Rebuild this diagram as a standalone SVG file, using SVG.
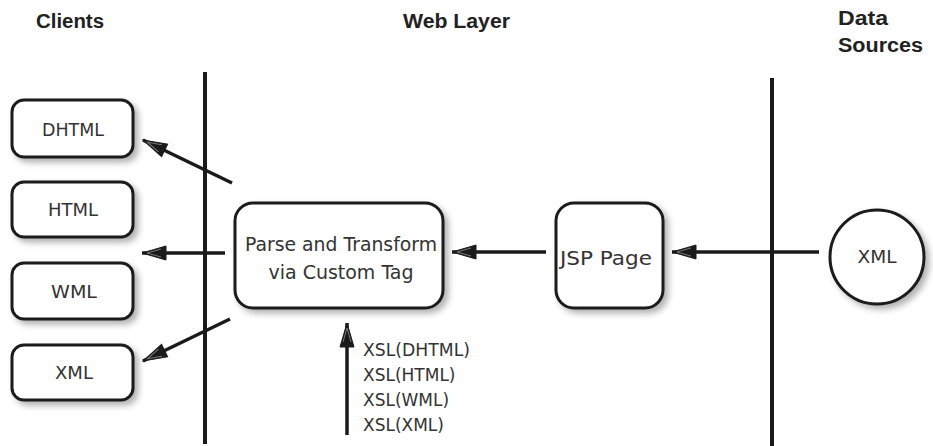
<svg xmlns="http://www.w3.org/2000/svg" width="933" height="446" viewBox="0 0 933 446">
<style>
.hdr{font-family:"Liberation Sans",Arial,sans-serif;font-weight:bold;font-size:20px;fill:#222}
.lbl{font-family:"DejaVu Sans","Liberation Sans",sans-serif;font-size:17px;fill:#333}
.big{font-family:"DejaVu Sans","Liberation Sans",sans-serif;font-size:19px;fill:#333}
.box{fill:#fff;stroke:#1a1a1a;stroke-width:3}
.bar{stroke:#1a1a1a;stroke-width:4;fill:none}
.conn{stroke:#1a1a1a;stroke-width:3.5;fill:none;marker-end:url(#arr)}
</style>
<defs>
<filter id="sh" x="-20%" y="-20%" width="150%" height="150%">
<feDropShadow dx="4" dy="4" stdDeviation="3" flood-color="#000" flood-opacity="0.3"/>
</filter>
<marker id="arr" markerUnits="userSpaceOnUse" viewBox="0 0 26 16" refX="25" refY="8" markerWidth="26" markerHeight="16" orient="auto">
<path d="M1,1 L25,8 L1,15 Z" fill="#1a1a1a" stroke="#1a1a1a" stroke-width="1"/>
<path d="M6,4 L20,8 L6,12" fill="none" stroke="#777" stroke-width="1"/>
</marker>
</defs>
<g id="headers">
<text class="hdr" x="36" y="28" textLength="68" lengthAdjust="spacingAndGlyphs">Clients</text>
<text class="hdr" x="403" y="28" textLength="107" lengthAdjust="spacingAndGlyphs">Web Layer</text>
<text class="hdr" x="838" y="25" textLength="50" lengthAdjust="spacingAndGlyphs">Data</text>
<text class="hdr" x="838" y="52" textLength="85" lengthAdjust="spacingAndGlyphs">Sources</text>
</g>
<g id="tiers">
<line class="bar" x1="205" y1="72" x2="205" y2="444"/>
<line class="bar" x1="772" y1="78" x2="772" y2="446"/>
</g>
<g id="connectors">
<line class="conn" x1="232" y1="183" x2="143" y2="140"/>
<line class="conn" x1="225" y1="253" x2="142" y2="253"/>
<line class="conn" x1="230" y1="319" x2="143" y2="361"/>
<line class="conn" x1="546" y1="252" x2="452" y2="252"/>
<line class="conn" x1="819" y1="252" x2="672" y2="252"/>
<line class="conn" x1="347" y1="435" x2="347" y2="323"/>
</g>
<g id="client-dhtml"><rect class="box" filter="url(#sh)" x="12" y="100" width="121" height="57" rx="12"/><text class="lbl" x="73" y="136" text-anchor="middle" textLength="62" lengthAdjust="spacingAndGlyphs">DHTML</text></g>
<g id="client-html"><rect class="box" filter="url(#sh)" x="12" y="182" width="121" height="55" rx="12"/><text class="lbl" x="73" y="216" text-anchor="middle" textLength="50" lengthAdjust="spacingAndGlyphs">HTML</text></g>
<g id="client-wml"><rect class="box" filter="url(#sh)" x="12" y="263" width="121" height="56" rx="12"/><text class="lbl" x="74" y="298" text-anchor="middle" textLength="46" lengthAdjust="spacingAndGlyphs">WML</text></g>
<g id="client-xml"><rect class="box" filter="url(#sh)" x="12" y="345" width="121" height="55" rx="12"/><text class="lbl" x="74" y="379" text-anchor="middle" textLength="38" lengthAdjust="spacingAndGlyphs">XML</text></g>
<g id="parse"><rect class="box" filter="url(#sh)" x="235" y="203" width="208" height="105" rx="18"/><text class="big" x="341" y="251" text-anchor="middle" textLength="192" lengthAdjust="spacingAndGlyphs">Parse and Transform</text><text class="big" x="341" y="279" text-anchor="middle" textLength="145" lengthAdjust="spacingAndGlyphs">via Custom Tag</text></g>
<g id="jsp"><rect class="box" filter="url(#sh)" x="556" y="203" width="107" height="105" rx="18"/><text class="big" x="606" y="265" text-anchor="middle" textLength="92" lengthAdjust="spacingAndGlyphs">JSP Page</text></g>
<g id="xml-source"><circle class="box" filter="url(#sh)" cx="877" cy="257" r="47"/><text class="lbl" x="877" y="263" text-anchor="middle" textLength="39" lengthAdjust="spacingAndGlyphs">XML</text></g>
<g id="xsl-labels">
<text class="lbl" x="363" y="356" textLength="107" lengthAdjust="spacingAndGlyphs">XSL(DHTML)</text>
<text class="lbl" x="363" y="381">XSL(HTML)</text>
<text class="lbl" x="363" y="406">XSL(WML)</text>
<text class="lbl" x="363" y="431">XSL(XML)</text>
</g>
</svg>
